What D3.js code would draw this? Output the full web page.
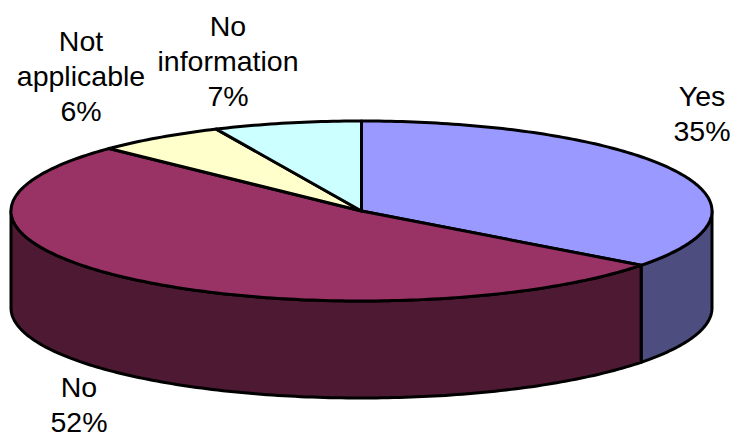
<!DOCTYPE html>
<html><head><meta charset="utf-8">
<script src="https://cdnjs.cloudflare.com/ajax/libs/d3/7.8.5/d3.min.js"></script>
<style>html,body{margin:0;padding:0;background:#fff}svg{display:block}text{font-family:"Liberation Sans",Arial,sans-serif;font-size:28.5px;fill:#000;text-anchor:middle}</style>
</head><body><svg id="c" width="731" height="433"></svg>
<script>
const categories = ["Yes","No","Not applicable","No information"];
const values = [35.3,51.9,6.0,6.8];
const topColors = ["#9999FF","#993366","#FFFFCC","#CCFFFF"];
const sideColors = ["#4D4D80","#4D1933","#808066","#668080"];
const labelLines = [["Yes","35%"],["No","52%"],["Not","applicable","6%"],["No","information","7%"]];
const labelPos = [[702,105.5],[79,397],[81,51],[228,36]];

const cx=361.5, cy=211, rx=350.5, ry=90, depth=97, sw=3;
const x=d3.scaleLinear().domain([-1,1]).range([cx-rx,cx+rx]);
const y=d3.scaleLinear().domain([-1,1]).range([cy-ry,cy+ry]);
const pie=d3.pie().sort(null).value(d=>d)(values);
const svg=d3.select("#c");
const pt=(a,dz=0)=>[x(Math.sin(a)),y(-Math.cos(a))+dz];
const line=d3.line();
const samples=(a0,a1,dz)=>{const n=Math.max(2,Math.ceil((a1-a0)*60));return d3.range(n+1).map(i=>pt(a0+(a1-a0)*i/n,dz));};

// side walls (front half of the rim only)
pie.forEach((p,i)=>{
  const a0=Math.max(p.startAngle,Math.PI/2), a1=Math.min(p.endAngle,Math.PI*1.5);
  if(a1<=a0) return;
  const pts=samples(a0,a1,0).concat(samples(a0,a1,depth).reverse());
  svg.append("path").attr("d",line(pts)+"Z").attr("fill",sideColors[i])
    .attr("stroke","#000").attr("stroke-width",sw).attr("stroke-linejoin","round");
});
// top slices
pie.forEach((p,i)=>{
  const pts=[[cx,cy]].concat(samples(p.startAngle,p.endAngle,0));
  svg.append("path").attr("d",line(pts)+"Z").attr("fill",topColors[i])
    .attr("stroke","#000").attr("stroke-width",sw).attr("stroke-linejoin","round");
});
// labels
labelLines.forEach((ls,i)=>{
  const t=svg.append("text").attr("aria-label",categories[i]);
  ls.forEach((s,j)=>t.append("tspan").attr("x",labelPos[i][0]).attr("y",labelPos[i][1]+j*35).text(s));
});
</script></body></html>
